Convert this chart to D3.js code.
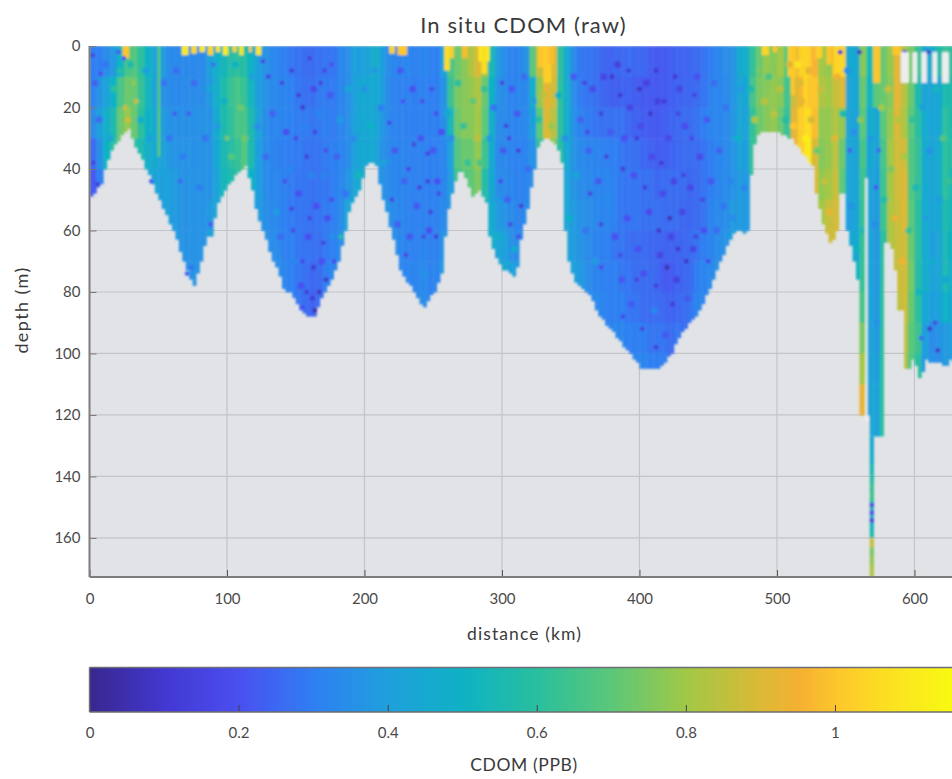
<!DOCTYPE html>
<html lang="en">
<head>
<meta charset="UTF-8">
<title>In situ CDOM (raw)</title>
<script src="https://d3js.org/d3.v7.min.js"></script>
<style>
  html, body { margin: 0; padding: 0; background: #fff; }
  svg { display: block; }
  text { font-family: Lato, sans-serif; fill: #3a3a3a; }
  .axis path { display: none; }
  .axis text { font-size: 15px; font-family: Lato, sans-serif; fill: #4a4a4a; }
</style>
</head>
<body>
<svg id="chart" width="952" height="779"></svg>
<script>
// tick labels
const distanceTicks = [0, 100, 200, 300, 400, 500, 600];
const depthTicks = [0, 20, 40, 60, 80, 100, 120, 140, 160];
const cdomTicks = [0, 0.2, 0.4, 0.6, 0.8, 1];

// colour ramp of the bar
const rampValues = [0, 0.1, 0.2, 0.3, 0.4, 0.5, 0.6, 0.7, 0.8, 0.9, 0.95, 1, 1.08, 1.16];
const rampColors = ["#38288f", "#4338d2", "#4a50f0", "#2f80f2", "#1fa0dc", "#0fb2c4", "#2abf9e", "#5cc878",
  "#a2c846", "#dcb936", "#f5b032", "#fdc62c", "#fbe420", "#f8fa12"];

// lowest sampled depth (m), one value every 2.5 km from 0 km
const bottomDepth = [
  49,48,46,45,40,37,34,32,31,29,28,27,30,33,35,37,40,42,45,48,
  50,53,55,58,60,63,67,70,73,76,78,74,70,65,62,62,56,51,49,47,
  45,44,42,41,40,39,43,47,53,57,60,63,67,70,72,75,79,80,80,82,
  84,86,87,88,88,88,85,82,80,78,76,73,70,65,60,54,51,49,47,43,
  39,38,38,39,45,50,54,59,63,68,73,75,77,78,80,82,84,85,83,81,
  80,77,74,62,53,48,44,41,41,43,46,49,48,47,49,51,62,66,69,71,
  73,73,74,75,72,63,58,53,46,40,33,31,30,30,31,32,34,38,60,70,
  74,77,78,79,80,81,83,86,88,89,91,92,93,95,96,98,99,100,102,103,
  105,105,105,105,105,105,104,103,101,100,97,95,93,92,90,89,88,86,84,81,
  79,76,73,70,68,65,63,61,60,60,61,60,42,32,29,28,28,28,28,28,
  28,29,29,30,30,32,33,35,36,38,39,48,53,58,61,64,63,60,48,48,
  60,65,70,76,120,120,120,127,127,127,127,64,64,66,73,86,86,105,105,102,
  104,108,106,102,103,103,103,103,104,104,102,103
];

// CDOM x100 in 10 m bands from the surface, one column every 5 km from 0 km
const cdomColumns = [
  [30,32,34,26,22],[30,36,40,35,30],[34,42,48,50],[38,50,56,60],[50,66,72],
  [65,72,78],[68,72,72,60],[60,62,60,55],[50,52,50,48,45],[42,42,45,45,42],
  [40,36,40,42,40,38],[34,34,36,38,40,40],[33,33,35,36,38,38,38],[33,33,35,36,36,36,36],[33,34,35,36,36,36,36,36],
  [33,34,35,35,36,36,36,36],[33,34,36,36,36,36,36],[40,38,36,36,36,38,40],[48,48,46,44,42,42],[52,56,56,54,52],
  [58,62,60,58,56],[60,66,66,62,60],[58,62,66,68,66],[50,52,56,56,50],[40,40,42,40,40,38],
  [36,36,35,35,35,35,36],[33,33,32,32,32,33,34],[31,32,32,30,32,32,33,34],[30,32,32,30,30,30,30,32],[28,30,30,29,29,29,30,30,30],
  [27,28,29,29,28,28,28,28,28],[26,27,29,28,28,28,28,27,26],[26,27,28,28,27,27,27,25,24],[27,29,29,28,28,28,27,26],[28,29,30,29,28,29,29,30],
  [28,29,29,30,30,30,30,32],[32,32,32,32,32,33,34,36],[34,34,34,33,36,42,45],[40,40,40,40,42,48],[40,44,44,44,46],
  [42,44,44,44],[48,44,44,44,44],[40,40,38,36,36],[34,33,33,33,34,36],[32,31,31,32,32,33,34],
  [32,31,31,32,32,32,32,32],[32,31,30,31,31,31,31,32],[31,30,30,31,31,31,31,32,33],[32,31,31,31,31,31,32,33,34],[31,30,30,30,30,31,31,31,32],
  [30,30,30,31,31,31,31,32],[40,36,34,32,32,33,36,38],[66,62,52,40,38,36],[72,74,72,68,64],[76,76,76,72,68],
  [82,78,76,72,70],[90,82,80,78,75],[80,72,70,64,58,54],[54,50,48,46,44,46,48],[38,36,34,33,34,38,42,44],
  [33,33,33,33,33,36,40,44],[31,31,32,31,32,33,34,40],[32,32,32,31,31,31,33,38],[36,33,33,32,32,33],[70,48,40,36,34],
  [86,78,70,62],[94,92,90,84],[90,88,84,76],[60,60,60,58,50],[44,46,46,44,42,42,42],
  [33,34,35,36,36,38,38,40],[28,29,31,33,34,36,36,38],[28,28,29,32,33,34,34,34,33],[27,27,28,32,32,33,32,32,33],[25,25,27,31,32,32,30,30,32],
  [24,24,27,30,32,32,30,30,30,32],[25,23,27,30,30,30,28,30,30,32],[25,24,27,28,28,28,28,28,30,32],[26,24,25,27,28,28,26,28,28,30],[25,23,24,27,28,28,26,26,28,30,32],
  [25,22,23,25,27,27,26,26,26,30,32],[23,22,22,24,27,27,25,26,26,28,30],[22,22,22,23,25,27,25,25,26,28,30],[22,22,23,23,26,26,24,22,25,28,30],[23,23,24,24,26,26,24,22,24,26],
  [24,24,25,25,26,26,24,24,25,28],[24,25,26,26,26,25,25,25,26],[25,25,26,26,25,25,26,26,28],[26,26,28,26,26,26,28,30,32],[28,28,30,28,28,28,30,32],
  [30,32,32,30,30,32,32,33],[32,32,32,32,32,33,34,36],[34,33,33,33,33,34,36],[36,36,36,36,36,38,40],[44,42,42,40,38,38,40],
  [48,44,42,40,38,38,38],[62,66,62],[72,74,72],[78,76,76],[76,78,78],
  [80,76,72],[70,64,62],[90,88,92],[98,96,102],[102,100,106,110],
  [96,100,98,90],[80,82,78,76,78,80],[78,80,78,78,80,86,88],[92,86,82,84,86,88,88],[104,90,78,72,70,70],
  [44,42,42,42,42,40,44],[44,44,42,42,42,42,44,50],[76,72,70,66,64,62,62,62,66,74,80,92],[56,52,46,44,42,42,42,42,42,42,42,42,42],[80,70,44,42,40,38,38,38,38,38,40,42,42],
  [72,72,70,66,64,64,60],[78,76,78,80,80,82,82,84],[92,92,90,88,88,86,86,86,84],[82,84,82,88,90,90,88,88,88,86,84],[74,72,70,68,68,70,72,74,72,70,68],
  [62,56,60,62,62,60,60,58,60,64,60],[44,42,46,46,46,46,46,48,44,40,38],[46,42,42,42,42,42,40,42,40,34,36],[56,44,44,46,46,44,42,42,40,36,34],[62,56,60,60,60,56,54,54,50,38,38],
  [60,56,56,58,54,52,50,48,44,40,38]
];

// bright patches under the surface: from km, to km, down to depth, CDOM
const surfaceStart = [24, 67, 74, 80, 86, 92, 97, 104, 109, 116, 121, 218, 224, 258, 262, 271, 283, 285, 326, 330, 334, 489, 497, 508, 510, 516, 519, 528, 536, 541, 570, 584];
const surfaceEnd = [29, 72, 78, 84, 90, 95, 101, 107, 112, 118, 125, 222, 231, 262, 265, 275, 291, 289, 330, 336, 338, 494, 500, 514, 513, 524, 522, 533, 540, 546, 575, 590];
const surfaceDepth = [4, 3, 2.5, 2, 3, 2, 3, 2, 3, 2, 3, 2.5, 3, 8, 4, 4, 5, 9, 7, 12, 6, 3, 2, 10, 16, 10, 20, 4, 6, 10, 12, 3];
const surfaceValue = [1.0, 1.1, 1.05, 1.1, 1.04, 1.08, 1.1, 1.04, 1.1, 1.02, 1.08, 1.04, 1.0, 1.06, 1.02, 0.98, 1.12, 1.06, 1.0, 1.02, 0.98, 1.04, 1.0, 1.02, 1.0, 1.03, 1.04, 1.02, 1.0, 1.04, 1.0, 1.0];

// spots that stand out from their surroundings: km, depth, CDOM
const cdomSpots = [
  [2,3,.14],[8,9,.2],[3,38,.14],[6,45,.12],[25,4,.2],[21,2,.22],[34,18,.88],[28,24,.92],[26,20,.88],[32,12,.78],
  [88,58,.2],[74,72,.26],[71,74,.24],[90,6,.26],[72,22,.22],[62,22,.22],[66,44,.24],[45,44,.24],[108,38,.62],[100,30,.74],
  [126,5,.16],[130,10,.16],[140,12,.14],[147,8,.12],[152,16,.12],[155,20,.1],[168,12,.14],[171,8,.16],[160,4,.14],[176,6,.2],
  [150,30,.16],[158,36,.12],[164,28,.14],[172,34,.18],[147,53,.14],[148,60,.18],[160,56,.16],[170,64,.14],[155,70,.18],[163,72,.1],
  [172,76,.08],[158,80,.12],[162,82,.1],[164,86,.04],[155,85,.18],[167,80,.08],[178,70,.18],[183,62,.6],[176,50,.18],[142,44,.18],
  [218,25,.16],[228,18,.2],[232,40,.16],[240,46,.14],[236,32,.16],[246,35,.14],[246,44,.12],[248,54,.12],[230,68,.16],[243,62,.16],
  [252,62,.12],[254,48,.16],[220,50,.16],[252,22,.18],[249,14,.16],[242,18,.18],[300,12,.14],[303,26,.14],[312,34,.12],[299,44,.16],
  [314,52,.12],[306,58,.16],[312,62,.18],[305,30,.16],
  [360,12,.14],[372,22,.12],[362,28,.16],[380,10,.08],[386,16,.1],[392,8,.1],[400,14,.06],[412,8,.08],[418,18,.1],[426,10,.1],
  [408,22,.08],[398,30,.12],[376,36,.14],[388,40,.12],[404,46,.12],[416,38,.1],[432,42,.14],[422,56,.06],[414,60,.08],[428,66,.08],
  [420,72,.04],[434,70,.08],[412,78,.12],[424,84,.1],[398,76,.14],[386,68,.16],[372,58,.16],[364,48,.14],[441,62,.14],[446,50,.16],
  [438,30,.16],[428,22,.14],[440,16,.14],[450,70,.16],[402,92,.14],[412,98,.12],[388,88,.16],[372,72,.18],
  [546,2,.1],[553,34,.22],[560,2,.08],[572,46,.2],[574,34,.24],[615,90,.16],[611,92,.08],[617,99,.08],[605,95,.24],[593,2,.12],[610,2,.1]
];

// the fainter grain of the field: km, depth, CDOM
const cdomGrain = [
  [4,12,.24],[7,24,.26],[12,6,.28],[15,30,.42],[18,14,.6],[22,8,.58],[30,6,.56],[37,24,.48],[41,8,.4],[44,30,.4],
  [54,12,.28],[58,30,.28],[63,8,.26],[68,36,.3],[76,12,.26],[80,46,.3],[84,30,.28],[87,14,.44],[93,26,.38],[98,18,.5],
  [103,36,.68],[106,6,.5],[110,20,.72],[113,30,.72],[118,10,.42],[122,26,.34],[128,36,.26],[133,22,.24],[136,54,.38],[139,62,.26],
  [143,28,.2],[146,40,.32],[149,70,.32],[152,48,.2],[154,78,.2],[156,26,.32],[159,62,.2],[161,42,.32],[163,14,.18],[165,52,.2],
  [167,22,.32],[169,70,.2],[171,42,.32],[173,56,.2],[175,16,.22],[177,62,.34],[180,36,.24],[182,24,.38],[186,48,.28],[188,14,.42],
  [192,30,.34],[196,42,.52],[200,14,.36],[204,26,.5],[207,8,.38],[212,20,.3],[214,38,.42],[222,34,.22],[224,58,.24],[226,8,.22],
  [229,44,.24],[233,62,.22],[235,14,.2],[238,52,.22],[241,30,.22],[244,74,.36],[247,60,.2],[250,34,.22],[253,44,.2],[256,28,.2],
  [260,22,.44],[263,30,.34],[268,12,.6],[272,26,.62],[275,38,.62],[279,18,.7],[282,30,.84],[284,38,.66],[287,14,.62],[291,30,.4],
  [294,20,.28],[296,50,.38],[298,62,.48],[301,34,.22],[304,50,.24],[307,14,.22],[309,66,.46],[311,22,.22],[316,10,.26],[319,40,.26],
  [323,18,.4],[327,24,.6],[331,16,.86],[336,26,.78],[341,16,.5],[346,30,.36],[349,56,.5],[352,10,.22],[354,42,.42],[357,24,.24],
  [361,60,.28],[363,34,.24],[366,14,.18],[368,70,.38],[370,44,.22],[374,10,.16],[377,50,.34],[379,28,.22],[382,62,.2],[384,6,.14],
  [387,76,.22],[389,30,.2],[391,56,.2],[393,20,.16],[394,84,.22],[396,42,.2],[399,66,.2],[401,26,.18],[403,74,.2],[405,12,.14],
  [407,54,.18],[409,36,.18],[411,86,.32],[413,18,.14],[415,68,.16],[417,48,.18],[419,94,.22],[421,30,.18],[423,62,.16],[425,44,.16],
  [427,76,.14],[429,14,.16],[431,54,.16],[433,26,.18],[435,82,.22],[437,46,.16],[439,66,.16],[442,10,.2],[444,36,.18],[447,60,.2],
  [449,24,.22],[452,44,.22],[454,12,.26],[456,60,.26],[458,34,.24],[461,52,.28],[463,20,.28],[466,44,.32],[468,56,.34],[471,30,.5],
  [474,14,.38],[476,46,.32],[481,14,.56],[484,24,.82],[487,8,.74],[491,18,.84],[494,10,.66],[498,22,.84],[502,14,.84],[506,24,.58],
  [509,6,.9],[512,26,1.0],[515,6,1.08],[517,12,.9],[518,18,.92],[521,30,1.12],[523,8,.92],[525,24,.88],[529,34,.72],[532,14,.86],
  [535,44,.86],[538,54,.92],[542,30,.9],[544,10,.94],[548,22,.56],[551,8,.36],[554,52,.36],[556,28,.34],[558,66,.5],[561,24,.76],
  [563,60,.56],[568,30,.38],[571,58,.34],[573,90,.36],[576,20,.8],[578,50,.58],[581,14,.86],[583,40,.74],[586,56,.92],[588,24,.84],
  [591,70,.94],[593,36,.8],[596,60,.62],[598,24,.62],[601,46,.54],[603,80,.52],[606,20,.4],[608,56,.4],[611,34,.36],[613,70,.46],
  [616,14,.52],[618,50,.4],[621,30,.68],[623,76,.44],[625,44,.62]
];

const thinKm = [49.5, 564.2];
const thinWidth = [2, 1.6];
const thinTop = [0, 43];
const thinBottom = [36, 122];
const thinValue = [0.7, null];

// the one dive that reaches the deepest point
const diveDepth = [127,130,133,136,139,142,145,147.5,148.6,150,151,152.5,153.5,155,158,160,163,166,169,172];
const diveValue = [.44,.46,.48,.54,.58,.62,.64,.6,.16,.56,.2,.52,.16,.52,.56,.86,.74,.78,.82,.8];

// no samples here
const gapStart = [590, 598.5, 605, 613, 620];
const gapEnd = [596, 602, 609, 616.5, 625];
const gapTop = 2;
const gapBottom = 12;

const svg = d3.select("#chart");
const plot = { left: 89.5, right: 952, top: 46, bottom: 577 };

const x = d3.scaleLinear().domain([0, 627.3]).range([plot.left, plot.right]);
const y = d3.scaleLinear().domain([0, 172.7]).range([plot.top, plot.bottom]);
const color = d3.scaleLinear().domain(rampValues).range(rampColors).clamp(true);
const barX = d3.scaleLinear().domain([0, 1.157]).range([plot.left, plot.right]);

const defs = svg.append("defs");
defs.append("filter").attr("id", "soft")
  .attr("x", "-2%").attr("y", "-2%").attr("width", "104%").attr("height", "104%")
  .append("feGaussianBlur").attr("stdDeviation", 1.3);
defs.append("clipPath").attr("id", "plotclip").append("rect")
  .attr("x", plot.left).attr("y", plot.top)
  .attr("width", plot.right - plot.left).attr("height", plot.bottom - plot.top);

svg.append("rect")
  .attr("x", plot.left).attr("y", plot.top)
  .attr("width", plot.right - plot.left).attr("height", plot.bottom - plot.top)
  .attr("fill", "#e2e3e6");

// grid
svg.append("g").selectAll("line").data(depthTicks.slice(1)).join("line")
  .attr("x1", plot.left).attr("x2", plot.right)
  .attr("y1", d => y(d)).attr("y2", d => y(d))
  .attr("stroke", "#c3c4c7").attr("stroke-width", 1.2);
svg.append("g").selectAll("line").data(distanceTicks.slice(1)).join("line")
  .attr("y1", plot.top).attr("y2", plot.bottom)
  .attr("x1", d => x(d)).attr("x2", d => x(d))
  .attr("stroke", "#c3c4c7").attr("stroke-width", 1.2);

// the section itself
const field = svg.append("g").attr("clip-path", "url(#plotclip)").append("g").attr("filter", "url(#soft)");

const cells = [];
bottomDepth.forEach(function(bottom, i) {
  const km = i * 2.5;
  const col = cdomColumns[Math.min(Math.floor(i / 2), cdomColumns.length - 1)];
  for (let d = 0; d < bottom; d += 10) {
    const band = Math.min(d / 10, col.length - 1);
    cells.push({ km: km, top: d, bottom: Math.min(d + 10, bottom), value: col[band] / 100 });
  }
});

field.selectAll("rect.cell").data(cells).join("rect")
  .attr("class", "cell")
  .attr("x", d => x(d.km))
  .attr("width", d => x(d.km + 2.5) - x(d.km) + 0.4)
  .attr("y", d => y(d.top))
  .attr("height", d => y(d.bottom) - y(d.top) + (d.bottom % 10 === 0 ? 0.4 : 0))
  .attr("fill", d => color(d.value));

field.selectAll("rect.surface").data(surfaceStart).join("rect")
  .attr("class", "surface")
  .attr("x", d => x(d))
  .attr("width", (d, i) => x(surfaceEnd[i]) - x(d))
  .attr("y", y(0))
  .attr("height", (d, i) => y(surfaceDepth[i]) - y(0))
  .attr("fill", (d, i) => color(surfaceValue[i]));

field.selectAll("circle.grain").data(cdomGrain).join("circle")
  .attr("class", "grain")
  .attr("cx", d => x(d[0]))
  .attr("cy", d => y(d[1]))
  .attr("r", 3.5)
  .attr("fill", d => color(d[2]));

field.selectAll("circle.spot").data(cdomSpots).join("circle")
  .attr("class", "spot")
  .attr("cx", d => x(d[0]))
  .attr("cy", d => y(d[1]))
  .attr("r", 2.4)
  .attr("fill", d => color(d[2]));

field.selectAll("rect.dive").data(diveDepth).join("rect")
  .attr("class", "dive")
  .attr("x", x(567.5))
  .attr("width", x(570.5) - x(567.5))
  .attr("y", d => y(d))
  .attr("height", (d, i) => y(i + 1 < diveDepth.length ? diveDepth[i + 1] : 172.7) - y(d) + 0.4)
  .attr("fill", (d, i) => color(diveValue[i]));

field.selectAll("rect.thin").data(thinKm).join("rect")
  .attr("class", "thin")
  .attr("x", d => x(d))
  .attr("width", (d, i) => x(d + thinWidth[i]) - x(d))
  .attr("y", (d, i) => y(thinTop[i]))
  .attr("height", (d, i) => y(thinBottom[i]) - y(thinTop[i]))
  .attr("fill", (d, i) => thinValue[i] === null ? "#f0f2f2" : color(thinValue[i]));

field.selectAll("rect.gap").data(gapStart).join("rect")
  .attr("class", "gap")
  .attr("x", d => x(d))
  .attr("width", (d, i) => x(gapEnd[i]) - x(d))
  .attr("y", y(gapTop))
  .attr("height", y(gapBottom) - y(gapTop))
  .attr("fill", "#eceeee");

// axes
const xAxis = d3.axisBottom(x).tickValues(distanceTicks).tickFormat(d3.format("d")).tickSizeInner(-7).tickSizeOuter(0).tickPadding(16);
const yAxis = d3.axisLeft(y).tickValues(depthTicks).tickFormat(d3.format("d")).tickSizeInner(-7).tickSizeOuter(0).tickPadding(9);

svg.append("g").attr("class", "axis").attr("transform", "translate(0," + plot.bottom + ")").call(xAxis)
  .selectAll("line").attr("stroke", "#555");
svg.append("g").attr("class", "axis").attr("transform", "translate(" + plot.left + ",0)").call(yAxis)
  .selectAll("line").attr("stroke", "#777");

svg.append("line").attr("x1", plot.left).attr("x2", plot.left).attr("y1", plot.top).attr("y2", plot.bottom)
  .attr("stroke", "#7d7d7d").attr("stroke-width", 2);
svg.append("line").attr("x1", plot.left).attr("x2", plot.right).attr("y1", plot.bottom).attr("y2", plot.bottom)
  .attr("stroke", "#7d7d7d").attr("stroke-width", 2);

svg.append("text").attr("x", 523.5).attr("y", 33).attr("text-anchor", "middle").attr("font-size", 22).attr("letter-spacing", 1.1).text("In situ CDOM (raw)");
svg.append("text").attr("x", 524.5).attr("y", 640).attr("text-anchor", "middle").attr("font-size", 17.5).attr("letter-spacing", 1.1).text("distance (km)");
svg.append("text").attr("transform", "translate(28,310) rotate(-90)").attr("text-anchor", "middle").attr("font-size", 18).attr("letter-spacing", 1.4).text("depth (m)");

// colour bar
const bar = { top: 667.5, bottom: 712 };
const barSteps = d3.range(0, barX.invert(plot.right), 0.004);
svg.append("g").selectAll("rect").data(barSteps).join("rect")
  .attr("x", d => barX(d))
  .attr("width", 4)
  .attr("y", bar.top)
  .attr("height", bar.bottom - bar.top)
  .attr("fill", d => color(d));

const barAxis = d3.axisBottom(barX).tickValues(cdomTicks).tickFormat(d3.format("~g")).tickSizeInner(-7).tickSizeOuter(0).tickPadding(15);
svg.append("g").attr("class", "axis").attr("transform", "translate(0," + bar.bottom + ")").call(barAxis)
  .selectAll("line").attr("stroke", "#444");

svg.append("line").attr("x1", plot.left).attr("x2", plot.right).attr("y1", bar.top).attr("y2", bar.top).attr("stroke", "#6d6d78").attr("stroke-width", 1.4);
svg.append("line").attr("x1", plot.left).attr("x2", plot.right).attr("y1", bar.bottom).attr("y2", bar.bottom).attr("stroke", "#6d6d6d").attr("stroke-width", 1.4);
svg.append("line").attr("x1", plot.left).attr("x2", plot.left).attr("y1", bar.top).attr("y2", bar.bottom).attr("stroke", "#6d6d78").attr("stroke-width", 1.4);

svg.append("text").attr("x", 524).attr("y", 771).attr("text-anchor", "middle").attr("font-size", 17.5).attr("letter-spacing", 0.6).text("CDOM (PPB)");
</script>
</body>
</html>
